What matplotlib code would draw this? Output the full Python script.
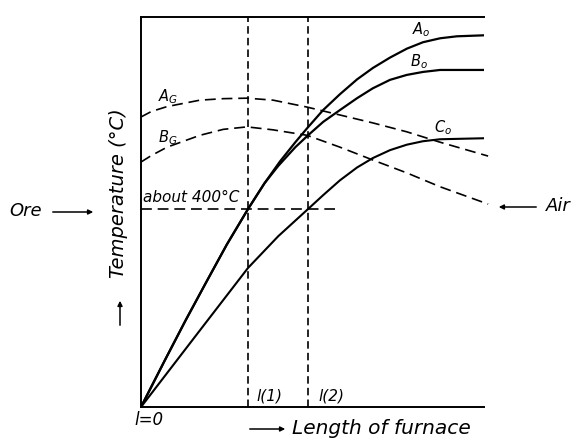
import matplotlib
matplotlib.use("Agg")
import matplotlib.pyplot as plt

# Length along the furnace (arbitrary units, furnace end = 10) and temperature (°C)
ao_len = [0.0, 0.7, 1.3, 1.9, 2.5, 3.12, 3.6, 4.05, 4.5, 4.84, 5.31, 5.80, 6.30,
          6.76, 7.26, 7.75, 8.22, 8.72, 9.21, 10.0]
ao_temp = [0, 95, 175, 252, 328, 400, 452, 496, 535, 563, 600, 632, 662,
           685, 706, 724, 737, 745, 749, 751]

bo_len = [0.0, 0.7, 1.3, 1.9, 2.5, 3.12, 3.6, 4.0, 4.5, 4.87, 5.31, 5.80, 6.30,
          6.76, 7.26, 7.75, 8.22, 8.72, 10.0]
bo_temp = [0, 95, 175, 252, 328, 400, 452, 487, 525, 549, 576, 600, 624,
           644, 661, 671, 677, 681, 681]

co_len = [0.0, 1.63, 3.12, 4.0, 4.87, 5.31, 5.80, 6.30, 6.76, 7.26, 7.75, 8.22,
          8.72, 10.0]
co_temp = [0, 147, 281, 345, 400, 428, 458, 484, 503, 519, 530, 537, 541, 543]

ag_len = [0.0, 0.3, 0.76, 1.72, 2.4, 3.09, 3.85, 4.84, 5.80, 6.76, 7.75, 8.72, 10.12]
ag_temp = [586, 597, 607, 620, 623, 624, 620, 606, 590, 574, 556, 535, 507]

bg_len = [0.0, 0.3, 0.76, 1.72, 2.4, 3.09, 3.85, 4.84, 5.80, 6.76, 7.75, 8.72, 10.12]
bg_temp = [495, 508, 525, 549, 561, 566, 560, 549, 525, 499, 473, 445, 410]

l1, l2 = 3.12, 4.87          # positions l(1), l(2)
ore_temp = 400                # "about 400°C"
ore_line_end = 5.66
temp_top = 788

W, H = 578, 441
fig = plt.figure(figsize=(W / 100, H / 100), dpi=100)
ax = fig.add_axes([141 / W, 34 / H, 343 / W, 390 / H])
ax.set_xlim(0, 10)
ax.set_ylim(0, temp_top)
ax.set_xticks([])
ax.set_yticks([])
ax.spines["right"].set_visible(False)
for s in ("left", "top", "bottom"):
    ax.spines[s].set_linewidth(1.4)

FONT = dict(family="DejaVu Sans", style="italic", color="black")
curve_dash = (0, (6.5, 3.5))
grid_dash = (0, (4.5, 2.5))

# gas temperature curves
ax.plot(ag_len, ag_temp, color="black", lw=1.2, ls=curve_dash, clip_on=False)
ax.plot(bg_len, bg_temp, color="black", lw=1.2, ls=curve_dash, clip_on=False)

# ore temperature curves
ax.plot(ao_len, ao_temp, color="black", lw=1.6, solid_joinstyle="round")
ax.plot(bo_len, bo_temp, color="black", lw=1.6, solid_joinstyle="round")
ax.plot(co_len, co_temp, color="black", lw=1.5, solid_joinstyle="round")

# reference lines
ax.plot([l1, l1], [0, temp_top], color="black", lw=1.2, ls=grid_dash)
ax.plot([l2, l2], [0, temp_top], color="black", lw=1.2, ls=grid_dash)
ax.plot([0, ore_line_end], [ore_temp, ore_temp], color="black", lw=1.2, ls=curve_dash)

# curve labels
ax.text(0.79, 628, r"A$_G$", fontsize=10.5, ha="center", va="center", **FONT)
ax.text(0.79, 545, r"B$_G$", fontsize=10.5, ha="center", va="center", **FONT)
ax.text(8.16, 762, r"A$_o$", fontsize=10.5, ha="center", va="center", **FONT)
ax.text(8.10, 697, r"B$_o$", fontsize=10.5, ha="center", va="center", **FONT)
ax.text(8.80, 565, r"C$_o$", fontsize=10.5, ha="center", va="center", **FONT)
ax.text(0.06, 408, "about 400°C", fontsize=11, ha="left", va="bottom", **FONT)

# position marks on the length axis
ax.text(l1 + 0.25, 8, "l(1)", fontsize=11, ha="left", va="bottom", **FONT)
ax.text(l2 + 0.3, 8, "l(2)", fontsize=11, ha="left", va="bottom", **FONT)


def fx(px):
    return px / W


def fy(py):
    return 1 - py / H


fig.text(fx(149), fy(420), "l=0", fontsize=12, ha="center", va="center", **FONT)

# axis captions with arrows
fig.text(fx(119), fy(193), "Temperature (°C)", fontsize=14, rotation=90,
         ha="center", va="center", **FONT)
fig.text(fx(381), fy(429), "Length of furnace", fontsize=14.5,
         ha="center", va="center", **FONT)

arrow = dict(arrowstyle="-|>", color="black", lw=1.1, mutation_scale=7)
fig.add_artist(plt.Annotation("", xy=(fx(120), fy(298)), xytext=(fx(120), fy(328)),
                              xycoords="figure fraction", arrowprops=arrow))
fig.add_artist(plt.Annotation("", xy=(fx(288), fy(429)), xytext=(fx(247), fy(429)),
                              xycoords="figure fraction", arrowprops=arrow))

# material flow directions
fig.text(fx(26), fy(211), "Ore", fontsize=13, ha="center", va="center", **FONT)
fig.add_artist(plt.Annotation("", xy=(fx(96), fy(212)), xytext=(fx(50), fy(212)),
                              xycoords="figure fraction", arrowprops=arrow))
fig.text(fx(558), fy(206), "Air", fontsize=13, ha="center", va="center", **FONT)
fig.add_artist(plt.Annotation("", xy=(fx(496), fy(207)), xytext=(fx(539), fy(207)),
                              xycoords="figure fraction", arrowprops=arrow))

fig.savefig("out.png", dpi=100, facecolor="white")
